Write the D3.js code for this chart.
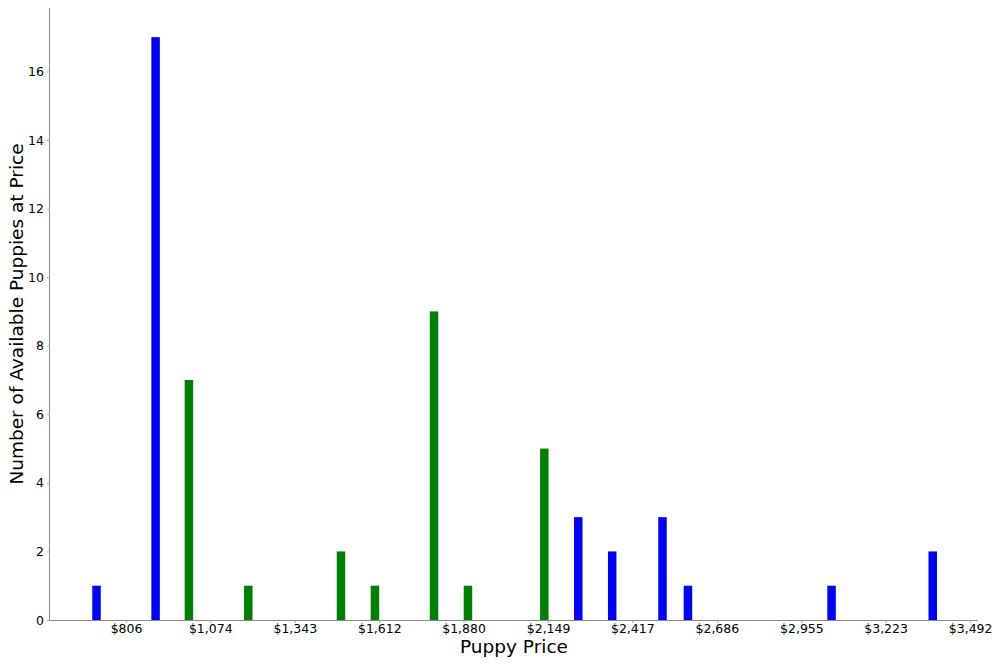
<!doctype html>
<html>
<head>
  <meta charset="utf-8">
  <title>Puppy Prices</title>
  <script src="https://cdn.jsdelivr.net/npm/d3@7"></script>
  <style>
    body { margin: 0; background: #fff; }
    text { font-family: "DejaVu Sans", sans-serif; fill: #000; }
  </style>
</head>
<body>
  <div class="graphContainer"></div>
  <script>
// prices (bar centres), counts and colour group
var prices = [712, 900, 1006, 1195, 1490, 1598, 1786, 1894, 2137, 2245, 2353, 2513, 2594, 3051, 3373];
var counts = [1, 17, 7, 1, 2, 1, 9, 1, 5, 3, 2, 3, 1, 1, 2];
var groups = ["blue", "blue", "green", "green", "green", "green", "green", "green", "green", "blue", "blue", "blue", "blue", "blue", "blue"];
var xTicks = [806, 1074, 1343, 1612, 1880, 2149, 2417, 2686, 2955, 3223, 3492];
var yTicks = [0, 2, 4, 6, 8, 10, 12, 14, 16];

function drawChart() {
    var w = 1000,
        h = 666;
    var left = 50, right = 978, top = 8, bottom = 620;
    var binWidth = 27;

    var svg = d3.select(".graphContainer")
        .append("svg")
        .attr("width", w)
        .attr("height", h);

    var x = d3.scaleLinear().domain([564, 3517]).range([left, right]);
    var y = d3.scaleLinear().domain([0, 17.85]).range([bottom, top]);

    var colour = { blue: "#0000ff", green: "#008000" };

    svg.selectAll("rect.bar")
        .data(prices)
        .enter()
        .append("rect")
        .attr("class", "bar")
        .attr("x", function(d) { return x(d - binWidth / 2); })
        .attr("width", function(d) { return x(d + binWidth / 2) - x(d - binWidth / 2); })
        .attr("y", function(d, i) { return y(counts[i]); })
        .attr("height", function(d, i) { return y(0) - y(counts[i]); })
        .attr("fill", function(d, i) { return colour[groups[i]]; });

    var xAxis = d3.axisBottom(x)
        .tickValues(xTicks)
        .tickSize(3)
        .tickFormat(function(d) { return "$" + d3.format(",")(d); });

    var gx = svg.append("g")
        .attr("transform", "translate(0," + bottom + ")")
        .call(xAxis);
    gx.select(".domain").attr("d", "M" + left + ",0.5H" + right).attr("stroke", "#888");
    gx.selectAll(".tick line").attr("stroke", "#aaa");
    gx.selectAll(".tick text").attr("font-size", 12.5).attr("y", 4).attr("dy", "0.75em");

    var yAxis = d3.axisLeft(y).tickValues(yTicks).tickSize(3);
    var gy = svg.append("g")
        .attr("transform", "translate(" + left + ",0)")
        .call(yAxis);
    gy.select(".domain").attr("d", "M-0.5," + top + "V" + bottom).attr("stroke", "#888");
    gy.selectAll(".tick line").attr("stroke", "#aaa");
    gy.selectAll(".tick text").attr("font-size", 12.5).attr("x", -6);

    svg.append("text")
        .attr("x", 514)
        .attr("y", 653)
        .attr("text-anchor", "middle")
        .attr("font-size", 18.5)
        .text("Puppy Price");

    svg.append("text")
        .attr("transform", "translate(23,314) rotate(-90)")
        .attr("text-anchor", "middle")
        .attr("font-size", 18.5)
        .text("Number of Available Puppies at Price");
}

drawChart();
  </script>
</body>
</html>
